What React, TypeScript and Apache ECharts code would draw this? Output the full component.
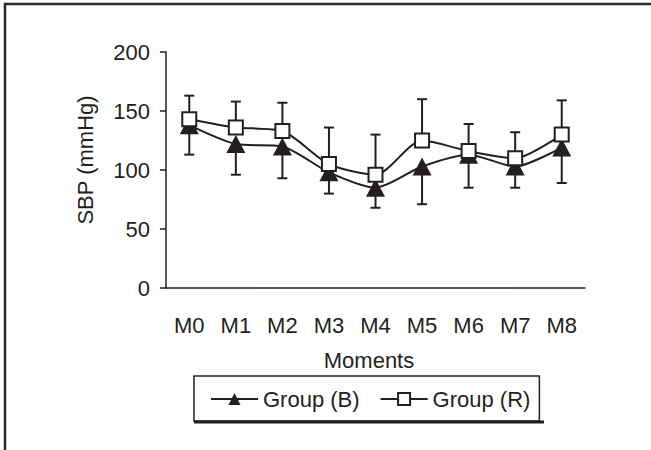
import React, { useEffect, useRef } from "react";
import * as echarts from "echarts";

const categories = ["M0", "M1", "M2", "M3", "M4", "M5", "M6", "M7", "M8"];
const groupB = [138, 122, 120, 98, 85, 103, 113, 103, 119];
const groupR = [143, 136, 133, 105, 96, 125, 116, 110, 130];
const groupBLower = [113, 96, 93, 80, 68, 71, 85, 85, 89];
const groupRUpper = [163, 158, 157, 136, 130, 160, 139, 132, 159];
const yTicks = [0, 50, 100, 150, 200];

const INK = "#231f20";
const FONT = "'Liberation Sans', Arial, sans-serif";

export default function App() {
  const ref = useRef<HTMLDivElement>(null);
  useEffect(() => {
    if (!ref.current) return;
    const chart = echarts.init(ref.current, null, { renderer: "svg" });
    const errRenderer = (params: any, api: any) => {
      const x = api.value(0);
      const p1 = api.coord([x, api.value(1)]);
      const p2 = api.coord([x, api.value(2)]);
      const hw = 5;
      return {
        type: "group",
        children: [
          { type: "line", shape: { x1: p1[0], y1: p1[1], x2: p2[0], y2: p2[1] }, style: { stroke: INK, lineWidth: 2 } },
          { type: "line", shape: { x1: p2[0] - hw, y1: p2[1], x2: p2[0] + hw, y2: p2[1] }, style: { stroke: INK, lineWidth: 2 } },
        ],
      };
    };
    chart.setOption({
      animation: false,
      textStyle: { fontFamily: FONT, color: INK },
      grid: { left: 166, right: 66, top: 52, bottom: 162, containLabel: false },
      xAxis: {
        type: "category",
        data: categories,
        boundaryGap: true,
        axisLine: { lineStyle: { color: INK, width: 1.5 } },
        axisTick: { show: false },
        axisLabel: { color: INK, fontSize: 22, fontFamily: FONT, margin: 26 },
      },
      yAxis: {
        type: "value",
        min: yTicks[0],
        max: yTicks[yTicks.length - 1],
        interval: 50,
        axisLine: { show: true, lineStyle: { color: INK, width: 1.5 } },
        axisTick: { show: true, length: 6, lineStyle: { color: INK, width: 1.5 } },
        axisLabel: { color: INK, fontSize: 22, fontFamily: FONT, margin: 16 },
        splitLine: { show: false },
      },
      legend: {
        data: ["Group (B)", "Group (R)"],
        left: 194,
        top: 376,
        orient: "horizontal",
        itemWidth: 47,
        itemHeight: 15,
        itemGap: 20,
        padding: [12, 9, 11, 16],
        borderColor: INK,
        borderWidth: 1.5,
        textStyle: { fontSize: 22, fontFamily: FONT, color: INK, padding: [0, 0, 0, 0] },
      },
      graphic: [
        {
          type: "rect",
          shape: { x: 5, y: 4, width: 700, height: 500 },
          style: { fill: "none", stroke: "#2a2a2a", lineWidth: 2.5 },
          silent: true,
        },
        {
          type: "line",
          shape: { x1: 194, y1: 422, x2: 544, y2: 422 },
          style: { stroke: INK, lineWidth: 3 },
          silent: true,
        },
        {
          type: "text",
          x: 369,
          y: 360,
          style: { text: "Moments", font: `22px ${FONT}`, fill: INK, textAlign: "center", textVerticalAlign: "middle" },
        },
        {
          type: "text",
          x: 85,
          y: 160,
          rotation: Math.PI / 2,
          style: { text: "SBP (mmHg)", font: `22px ${FONT}`, fill: INK, textAlign: "center", textVerticalAlign: "middle" },
        },
      ],
      series: [
        {
          type: "custom",
          name: "errR",
          renderItem: errRenderer,
          data: categories.map((_, i) => [i, groupR[i], groupRUpper[i]]),
          z: 1,
          silent: true,
        },
        {
          type: "custom",
          name: "errB",
          renderItem: errRenderer,
          data: categories.map((_, i) => [i, groupB[i], groupBLower[i]]),
          z: 1,
          silent: true,
        },
        {
          name: "Group (B)",
          type: "line",
          data: groupB,
          smooth: 0.25,
          symbol: "triangle",
          symbolSize: [19, 18],
          lineStyle: { color: INK, width: 2 },
          itemStyle: { color: INK, borderColor: INK, borderWidth: 0 },
          z: 3,
        },
        {
          name: "Group (R)",
          type: "line",
          data: groupR,
          smooth: 0.25,
          symbol: "rect",
          symbolSize: 14,
          lineStyle: { color: INK, width: 2 },
          itemStyle: { color: "#ffffff", borderColor: INK, borderWidth: 2 },
          z: 4,
        },
      ],
    });
    return () => chart.dispose();
  }, []);
  return <div ref={ref} style={{ width: 651, height: 450, position: "absolute", left: 0, top: 0 }} />;
}
